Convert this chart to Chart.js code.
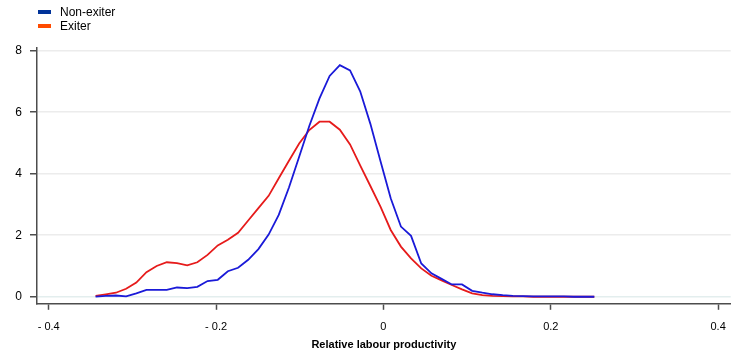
<!DOCTYPE html>
<html>
<head>
<meta charset="utf-8">
<script src="https://cdn.jsdelivr.net/npm/chart.js@4"></script>
<style>
  html, body { margin: 0; padding: 0; background: #fff; }
  #wrap { position: relative; width: 744px; height: 359px; }
  #legend { position: absolute; left: 38px; top: 5px; font-family: "Liberation Sans", Arial, sans-serif; font-size: 12px; color: #000; }
  .item { position: relative; height: 14px; line-height: 14px; padding-left: 22px; }
  .sw { position: absolute; left: 0; top: 5px; width: 13px; height: 4px; }
</style>
</head>
<body>
<div id="wrap">
  <canvas id="c" width="744" height="359"></canvas>
  <div id="legend">
    <div class="item"><span class="sw" style="background:#003299"></span>Non-exiter</div>
    <div class="item"><span class="sw" style="background:#ff4b00"></span>Exiter</div>
  </div>
</div>
<script>
// x grid of the density estimates
const xs = [-0.344,-0.3318,-0.3197,-0.3075,-0.2953,-0.2832,-0.2710,-0.2589,-0.2467,-0.2345,
            -0.2224,-0.2102,-0.1980,-0.1859,-0.1737,-0.1616,-0.1494,-0.1372,-0.1251,-0.1129,
            -0.1007,-0.0886,-0.0764,-0.0643,-0.0521,-0.0399,-0.0278,-0.0156,-0.0034,0.0087,
            0.0209,0.0330,0.0452,0.0574,0.0695,0.0817,0.0939,0.1060,0.1182,0.1303,
            0.1425,0.1547,0.1668,0.1790,0.1912,0.2033,0.2155,0.2276,0.2398,0.2520];
const nonExiter = [0.00,0.03,0.04,0.01,0.11,0.22,0.22,0.22,0.30,0.28,
                   0.32,0.51,0.55,0.83,0.94,1.20,1.55,2.02,2.66,3.55,
                   4.55,5.55,6.45,7.18,7.53,7.36,6.68,5.62,4.40,3.20,
                   2.28,1.98,1.08,0.76,0.58,0.40,0.40,0.19,0.13,0.08,
                   0.05,0.03,0.02,0.01,0.01,0.01,0.01,0.00,0.00,0.00];
const exiter = [0.03,0.08,0.13,0.26,0.46,0.80,1.00,1.12,1.09,1.02,
                1.12,1.36,1.67,1.85,2.08,2.48,2.88,3.28,3.85,4.42,
                4.98,5.42,5.69,5.69,5.43,4.95,4.27,3.60,2.92,2.17,
                1.63,1.25,0.92,0.68,0.53,0.38,0.24,0.11,0.055,0.03,
                0.02,0.01,0.01,0.00,0.00,0.00,0.00,0.00,0.00,0.00];
const xTicks = [-0.4,-0.2,0,0.2,0.4];
const yTicks = [0,2,4,6,8];
const seriesNames = ["Non-exiter","Exiter"];
const xTitle = "Relative labour productivity";

const toPts = (vals) => xs.map((x, i) => ({x: x, y: vals[i]}));

new Chart(document.getElementById('c'), {
  type: 'line',
  data: {
    datasets: [
      { label: seriesNames[0], data: toPts(nonExiter), borderColor: '#1a1ad8', borderWidth: 1.8, pointRadius: 0, tension: 0, fill: false },
      { label: seriesNames[1], data: toPts(exiter), borderColor: '#e61b1b', borderWidth: 1.8, pointRadius: 0, tension: 0, fill: false }
    ]
  },
  options: {
    responsive: false,
    animation: false,
    layout: { padding: { top: 47.6, left: 0, right: 13.3, bottom: 5 } },
    plugins: { legend: { display: false }, tooltip: { enabled: false } },
    scales: {
      x: {
        type: 'linear',
        min: -0.414, max: 0.415,
        afterFit: (s) => { s.height = 50.2; },
        afterBuildTicks: (s) => { s.ticks = xTicks.map(v => ({value: v})); },
        grid: { drawOnChartArea: false, drawTicks: true, tickLength: 6, tickColor: '#4d4d4d', tickWidth: 1.5 },
        border: { display: true, color: '#4d4d4d', width: 1.5 },
        ticks: {
          padding: 11, color: '#000', maxRotation: 0,
          font: { family: '"Liberation Sans", Arial, sans-serif', size: 11 },
          callback: (v) => v < 0 ? '- ' + String(Math.abs(v)) : String(v)
        },
        title: { display: true, text: xTitle, color: '#000', padding: { top: 2, bottom: 2 },
          font: { family: '"Liberation Sans", Arial, sans-serif', size: 11, weight: 'bold' } }
      },
      y: {
        min: -0.23, max: 8.1,
        afterFit: (s) => { s.width = 37; },
        afterBuildTicks: (s) => { s.ticks = yTicks.map(v => ({value: v})); },
        grid: {
          drawOnChartArea: true, drawTicks: true, tickLength: 7, tickWidth: 1.5, tickColor: '#4d4d4d',
          color: (ctx) => ctx.tick && ctx.tick.value === 0 ? '#e3eeee' : '#ececec',
          lineWidth: 1.5
        },
        border: { display: true, color: '#4d4d4d', width: 1.5 },
        ticks: {
          padding: 8, color: '#000',
          font: { family: '"Liberation Sans", Arial, sans-serif', size: 12 },
          callback: (v) => String(v)
        }
      }
    }
  }
});
</script>
</body>
</html>
